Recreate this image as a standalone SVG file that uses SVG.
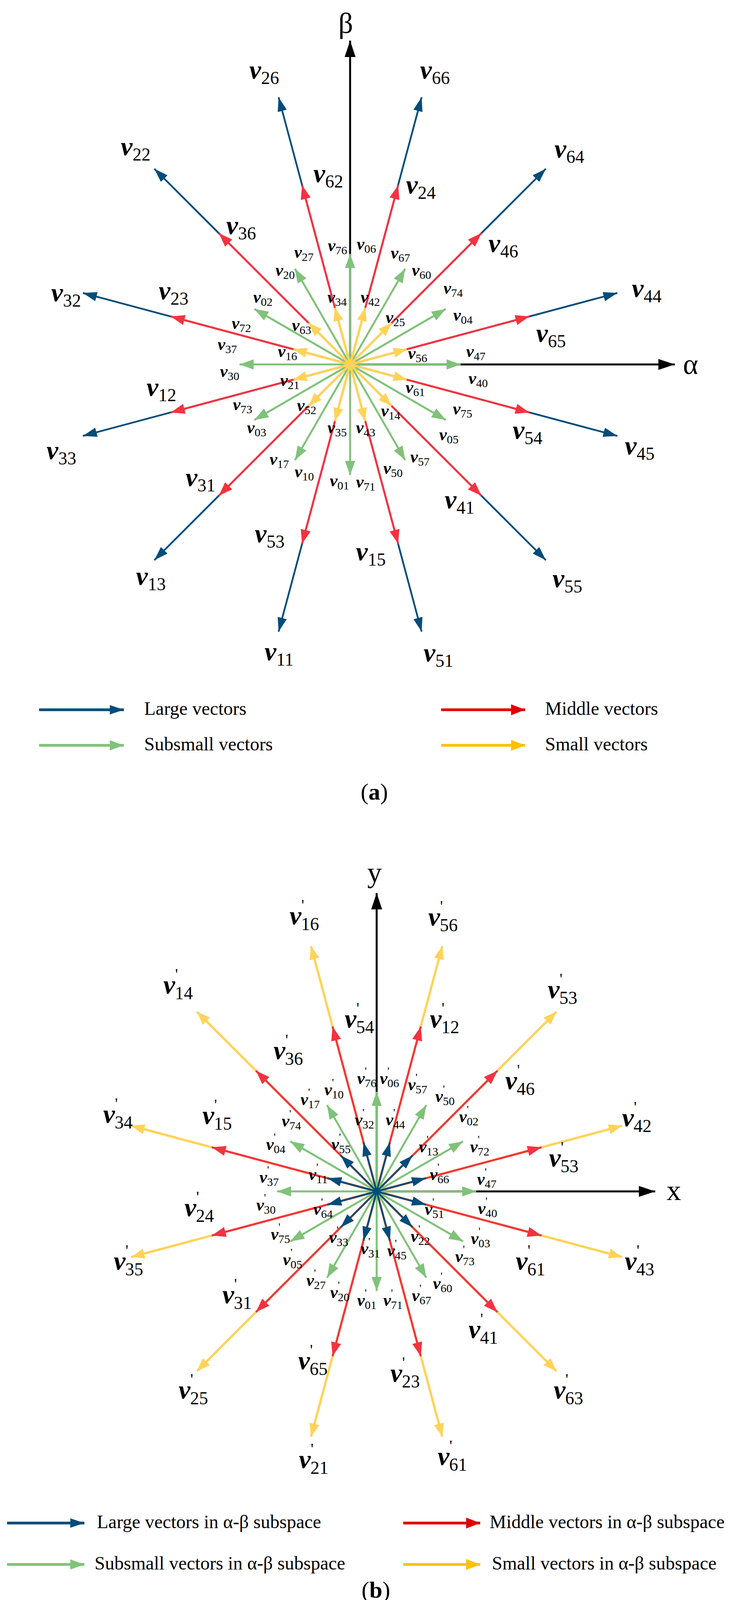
<svg xmlns="http://www.w3.org/2000/svg" width="1899" height="4184" viewBox="0 0 1899 4184">
<style>
text{font-family:"Liberation Serif","Times New Roman",serif;fill:#000}
.vL{font-weight:bold;font-style:italic;font-size:68px}
.vS{font-weight:bold;font-style:italic;font-size:44px}
.sL{font-weight:normal;font-style:normal;font-size:46px}
.sS{font-weight:normal;font-style:normal;font-size:30px}
.pL{font-weight:normal;font-style:normal;font-size:40px}
.pS{font-weight:normal;font-style:normal;font-size:28px}
.ax{font-size:74px}
.lg{font-size:48px}
.cap{font-size:60px}
.b{stroke:#004c7a;stroke-width:4.5;marker-end:url(#mB)}
.r{stroke:#f53240;stroke-width:5;marker-end:url(#mR)}
.g{stroke:#80c27a;stroke-width:5;marker-end:url(#mG)}
.y{stroke:#ffd35a;stroke-width:6;marker-end:url(#mY)}
.k{stroke:#000;stroke-width:5;marker-end:url(#mK)}
</style>
<defs>
<marker id="mB" markerUnits="userSpaceOnUse" markerWidth="36" markerHeight="24" refX="36" refY="12" orient="auto"><path d="M0,0L36,12L0,24z" fill="#004c7a"/></marker>
<marker id="mR" markerUnits="userSpaceOnUse" markerWidth="36" markerHeight="26" refX="36" refY="13" orient="auto"><path d="M0,0L36,13L0,26z" fill="#f53240"/></marker>
<marker id="mG" markerUnits="userSpaceOnUse" markerWidth="36" markerHeight="26" refX="36" refY="13" orient="auto"><path d="M0,0L36,13L0,26z" fill="#80c27a"/></marker>
<marker id="mY" markerUnits="userSpaceOnUse" markerWidth="34" markerHeight="26" refX="34" refY="13" orient="auto"><path d="M0,0L34,13L0,26z" fill="#ffd35a"/></marker>
<marker id="mK" markerUnits="userSpaceOnUse" markerWidth="42" markerHeight="28" refX="42" refY="14" orient="auto"><path d="M0,0L42,14L0,28z" fill="#000"/></marker>
<marker id="mR2" markerUnits="userSpaceOnUse" markerWidth="36" markerHeight="28" refX="36" refY="14" orient="auto"><path d="M0,0L36,14L0,28z" fill="#e00000"/></marker>
<marker id="mY2" markerUnits="userSpaceOnUse" markerWidth="36" markerHeight="28" refX="36" refY="14" orient="auto"><path d="M0,0L36,14L0,28z" fill="#ffc000"/></marker>
</defs>

<g id="connectors-a">
<line class="k" x1="896" y1="933" x2="1727" y2="933"/>
<line class="k" x1="896" y1="933" x2="896" y2="104"/>
<line class="b" x1="896" y1="933" x2="1580" y2="750"/>
<line class="b" x1="896" y1="933" x2="1397" y2="432"/>
<line class="b" x1="896" y1="933" x2="1079" y2="249"/>
<line class="b" x1="896" y1="933" x2="713" y2="249"/>
<line class="b" x1="896" y1="933" x2="395" y2="432"/>
<line class="b" x1="896" y1="933" x2="212" y2="750"/>
<line class="b" x1="896" y1="933" x2="212" y2="1116"/>
<line class="b" x1="896" y1="933" x2="395" y2="1434"/>
<line class="b" x1="896" y1="933" x2="713" y2="1617"/>
<line class="b" x1="896" y1="933" x2="1079" y2="1617"/>
<line class="b" x1="896" y1="933" x2="1397" y2="1434"/>
<line class="b" x1="896" y1="933" x2="1580" y2="1116"/>
<line class="r" x1="896" y1="933" x2="1355" y2="810"/>
<line class="r" x1="896" y1="933" x2="1232" y2="597"/>
<line class="r" x1="896" y1="933" x2="1019" y2="474"/>
<line class="r" x1="896" y1="933" x2="773" y2="474"/>
<line class="r" x1="896" y1="933" x2="560" y2="597"/>
<line class="r" x1="896" y1="933" x2="437" y2="810"/>
<line class="r" x1="896" y1="933" x2="437" y2="1056"/>
<line class="r" x1="896" y1="933" x2="560" y2="1269"/>
<line class="r" x1="896" y1="933" x2="773" y2="1392"/>
<line class="r" x1="896" y1="933" x2="1019" y2="1392"/>
<line class="r" x1="896" y1="933" x2="1232" y2="1269"/>
<line class="r" x1="896" y1="933" x2="1355" y2="1056"/>
<line class="g" x1="896" y1="933" x2="1179" y2="933"/>
<line class="g" x1="896" y1="933" x2="1141" y2="791"/>
<line class="g" x1="896" y1="933" x2="1037" y2="688"/>
<line class="g" x1="896" y1="933" x2="896" y2="650"/>
<line class="g" x1="896" y1="933" x2="755" y2="688"/>
<line class="g" x1="896" y1="933" x2="651" y2="791"/>
<line class="g" x1="896" y1="933" x2="613" y2="933"/>
<line class="g" x1="896" y1="933" x2="651" y2="1075"/>
<line class="g" x1="896" y1="933" x2="755" y2="1178"/>
<line class="g" x1="896" y1="933" x2="896" y2="1216"/>
<line class="g" x1="896" y1="933" x2="1037" y2="1178"/>
<line class="g" x1="896" y1="933" x2="1141" y2="1075"/>
<line class="y" x1="896" y1="933" x2="1041" y2="894"/>
<line class="y" x1="896" y1="933" x2="1002" y2="827"/>
<line class="y" x1="896" y1="933" x2="935" y2="788"/>
<line class="y" x1="896" y1="933" x2="857" y2="788"/>
<line class="y" x1="896" y1="933" x2="790" y2="827"/>
<line class="y" x1="896" y1="933" x2="751" y2="894"/>
<line class="y" x1="896" y1="933" x2="751" y2="972"/>
<line class="y" x1="896" y1="933" x2="790" y2="1039"/>
<line class="y" x1="896" y1="933" x2="857" y2="1078"/>
<line class="y" x1="896" y1="933" x2="935" y2="1078"/>
<line class="y" x1="896" y1="933" x2="1002" y2="1039"/>
<line class="y" x1="896" y1="933" x2="1041" y2="972"/>
</g>

<g id="labels-a">
<text class="ax" x="1748" y="957">α</text>
<text class="ax" x="866" y="84">β</text>
<text class="vL" x="638" y="201">v<tspan class="sL" dy="14">26</tspan></text>
<text class="vL" x="1075" y="201">v<tspan class="sL" dy="14">66</tspan></text>
<text class="vL" x="309" y="397">v<tspan class="sL" dy="14">22</tspan></text>
<text class="vL" x="1419" y="403">v<tspan class="sL" dy="14">64</tspan></text>
<text class="vL" x="802" y="466">v<tspan class="sL" dy="14">62</tspan></text>
<text class="vL" x="1039" y="495">v<tspan class="sL" dy="14">24</tspan></text>
<text class="vL" x="579" y="599">v<tspan class="sL" dy="14">36</tspan></text>
<text class="vL" x="1250" y="645">v<tspan class="sL" dy="14">46</tspan></text>
<text class="vL" x="131" y="771">v<tspan class="sL" dy="14">32</tspan></text>
<text class="vL" x="406" y="766">v<tspan class="sL" dy="14">23</tspan></text>
<text class="vL" x="1617" y="760">v<tspan class="sL" dy="14">44</tspan></text>
<text class="vL" x="1372" y="875">v<tspan class="sL" dy="14">65</tspan></text>
<text class="vL" x="375" y="1013">v<tspan class="sL" dy="14">12</tspan></text>
<text class="vL" x="1312" y="1123">v<tspan class="sL" dy="14">54</tspan></text>
<text class="vL" x="119" y="1175">v<tspan class="sL" dy="14">33</tspan></text>
<text class="vL" x="1599" y="1163">v<tspan class="sL" dy="14">45</tspan></text>
<text class="vL" x="475" y="1244">v<tspan class="sL" dy="14">31</tspan></text>
<text class="vL" x="1138" y="1301">v<tspan class="sL" dy="14">41</tspan></text>
<text class="vL" x="652" y="1388">v<tspan class="sL" dy="14">53</tspan></text>
<text class="vL" x="911" y="1434">v<tspan class="sL" dy="14">15</tspan></text>
<text class="vL" x="348" y="1497">v<tspan class="sL" dy="14">13</tspan></text>
<text class="vL" x="1414" y="1503">v<tspan class="sL" dy="14">55</tspan></text>
<text class="vL" x="677" y="1690">v<tspan class="sL" dy="14">11</tspan></text>
<text class="vL" x="1084" y="1693">v<tspan class="sL" dy="14">51</tspan></text>
<text class="vS" x="839" y="643">v<tspan class="sS" dy="8">76</tspan></text>
<text class="vS" x="913" y="639">v<tspan class="sS" dy="8">06</tspan></text>
<text class="vS" x="753" y="660">v<tspan class="sS" dy="8">27</tspan></text>
<text class="vS" x="1000" y="662">v<tspan class="sS" dy="8">67</tspan></text>
<text class="vS" x="705" y="706">v<tspan class="sS" dy="8">20</tspan></text>
<text class="vS" x="1054" y="706">v<tspan class="sS" dy="8">60</tspan></text>
<text class="vS" x="648" y="775">v<tspan class="sS" dy="8">02</tspan></text>
<text class="vS" x="838" y="775">v<tspan class="sS" dy="8">34</tspan></text>
<text class="vS" x="923" y="775">v<tspan class="sS" dy="8">42</tspan></text>
<text class="vS" x="1135" y="752">v<tspan class="sS" dy="8">74</tspan></text>
<text class="vS" x="1160" y="821">v<tspan class="sS" dy="8">04</tspan></text>
<text class="vS" x="593" y="842">v<tspan class="sS" dy="8">72</tspan></text>
<text class="vS" x="747" y="847">v<tspan class="sS" dy="8">63</tspan></text>
<text class="vS" x="987" y="827">v<tspan class="sS" dy="8">25</tspan></text>
<text class="vS" x="557" y="896">v<tspan class="sS" dy="8">37</tspan></text>
<text class="vS" x="711" y="914">v<tspan class="sS" dy="8">16</tspan></text>
<text class="vS" x="1044" y="919">v<tspan class="sS" dy="8">56</tspan></text>
<text class="vS" x="1193" y="914">v<tspan class="sS" dy="8">47</tspan></text>
<text class="vS" x="563" y="965">v<tspan class="sS" dy="8">30</tspan></text>
<text class="vS" x="717" y="988">v<tspan class="sS" dy="8">21</tspan></text>
<text class="vS" x="1199" y="983">v<tspan class="sS" dy="8">40</tspan></text>
<text class="vS" x="1038" y="1006">v<tspan class="sS" dy="8">61</tspan></text>
<text class="vS" x="596" y="1050">v<tspan class="sS" dy="8">73</tspan></text>
<text class="vS" x="760" y="1052">v<tspan class="sS" dy="8">52</tspan></text>
<text class="vS" x="975" y="1066">v<tspan class="sS" dy="8">14</tspan></text>
<text class="vS" x="1159" y="1061">v<tspan class="sS" dy="8">75</tspan></text>
<text class="vS" x="632" y="1109">v<tspan class="sS" dy="8">03</tspan></text>
<text class="vS" x="838" y="1109">v<tspan class="sS" dy="8">35</tspan></text>
<text class="vS" x="911" y="1109">v<tspan class="sS" dy="8">43</tspan></text>
<text class="vS" x="1124" y="1127">v<tspan class="sS" dy="8">05</tspan></text>
<text class="vS" x="690" y="1190">v<tspan class="sS" dy="8">17</tspan></text>
<text class="vS" x="1050" y="1184">v<tspan class="sS" dy="8">57</tspan></text>
<text class="vS" x="754" y="1222">v<tspan class="sS" dy="8">10</tspan></text>
<text class="vS" x="981" y="1213">v<tspan class="sS" dy="8">50</tspan></text>
<text class="vS" x="844" y="1245">v<tspan class="sS" dy="8">01</tspan></text>
<text class="vS" x="911" y="1248">v<tspan class="sS" dy="8">71</tspan></text>
</g>

<g id="legend-a">
<line x1="100" y1="1817" x2="317" y2="1817" stroke="#004c7a" stroke-width="7" marker-end="url(#mB)"/>
<text class="lg" x="369" y="1830">Large vectors</text>
<line x1="1129" y1="1817" x2="1344" y2="1817" stroke="#e00000" stroke-width="7" marker-end="url(#mR2)"/>
<text class="lg" x="1395" y="1830">Middle vectors</text>
<line x1="100" y1="1908" x2="317" y2="1908" stroke="#80c27a" stroke-width="7" marker-end="url(#mG)"/>
<text class="lg" x="369" y="1921">Subsmall vectors</text>
<line x1="1129" y1="1908" x2="1344" y2="1908" stroke="#ffc000" stroke-width="7" marker-end="url(#mY2)"/>
<text class="lg" x="1395" y="1921">Small vectors</text>
<text class="cap" x="958" y="2047" text-anchor="middle">(<tspan font-weight="bold">a</tspan>)</text>
</g>

<g id="connectors-b">
<line class="k" x1="964" y1="3050" x2="1677" y2="3050"/>
<line class="k" x1="964" y1="3050" x2="964" y2="2286"/>
<line class="y" x1="964" y1="3050" x2="1592" y2="2882"/>
<line class="y" x1="964" y1="3050" x2="1424" y2="2590"/>
<line class="y" x1="964" y1="3050" x2="1132" y2="2422"/>
<line class="y" x1="964" y1="3050" x2="796" y2="2422"/>
<line class="y" x1="964" y1="3050" x2="504" y2="2590"/>
<line class="y" x1="964" y1="3050" x2="336" y2="2882"/>
<line class="y" x1="964" y1="3050" x2="336" y2="3218"/>
<line class="y" x1="964" y1="3050" x2="504" y2="3510"/>
<line class="y" x1="964" y1="3050" x2="796" y2="3678"/>
<line class="y" x1="964" y1="3050" x2="1132" y2="3678"/>
<line class="y" x1="964" y1="3050" x2="1424" y2="3510"/>
<line class="y" x1="964" y1="3050" x2="1592" y2="3218"/>
<line class="r" x1="964" y1="3050" x2="1386" y2="2937"/>
<line class="r" x1="964" y1="3050" x2="1273" y2="2741"/>
<line class="r" x1="964" y1="3050" x2="1077" y2="2628"/>
<line class="r" x1="964" y1="3050" x2="851" y2="2628"/>
<line class="r" x1="964" y1="3050" x2="655" y2="2741"/>
<line class="r" x1="964" y1="3050" x2="542" y2="2937"/>
<line class="r" x1="964" y1="3050" x2="542" y2="3163"/>
<line class="r" x1="964" y1="3050" x2="655" y2="3359"/>
<line class="r" x1="964" y1="3050" x2="851" y2="3472"/>
<line class="r" x1="964" y1="3050" x2="1077" y2="3472"/>
<line class="r" x1="964" y1="3050" x2="1273" y2="3359"/>
<line class="r" x1="964" y1="3050" x2="1386" y2="3163"/>
<line class="g" x1="964" y1="3050" x2="1219" y2="3050"/>
<line class="g" x1="964" y1="3050" x2="1185" y2="2922"/>
<line class="g" x1="964" y1="3050" x2="1091" y2="2829"/>
<line class="g" x1="964" y1="3050" x2="964" y2="2795"/>
<line class="g" x1="964" y1="3050" x2="837" y2="2829"/>
<line class="g" x1="964" y1="3050" x2="743" y2="2922"/>
<line class="g" x1="964" y1="3050" x2="709" y2="3050"/>
<line class="g" x1="964" y1="3050" x2="743" y2="3178"/>
<line class="g" x1="964" y1="3050" x2="837" y2="3271"/>
<line class="g" x1="964" y1="3050" x2="964" y2="3305"/>
<line class="g" x1="964" y1="3050" x2="1091" y2="3271"/>
<line class="g" x1="964" y1="3050" x2="1185" y2="3178"/>
<line class="b" x1="964" y1="3050" x2="1090" y2="3016"/>
<line class="b" x1="964" y1="3050" x2="1056" y2="2958"/>
<line class="b" x1="964" y1="3050" x2="998" y2="2924"/>
<line class="b" x1="964" y1="3050" x2="930" y2="2924"/>
<line class="b" x1="964" y1="3050" x2="872" y2="2958"/>
<line class="b" x1="964" y1="3050" x2="838" y2="3016"/>
<line class="b" x1="964" y1="3050" x2="838" y2="3084"/>
<line class="b" x1="964" y1="3050" x2="872" y2="3142"/>
<line class="b" x1="964" y1="3050" x2="930" y2="3176"/>
<line class="b" x1="964" y1="3050" x2="998" y2="3176"/>
<line class="b" x1="964" y1="3050" x2="1056" y2="3142"/>
<line class="b" x1="964" y1="3050" x2="1090" y2="3084"/>
</g>

<g id="labels-b">
<text class="ax" x="940" y="2258">y</text>
<text class="ax" x="1706" y="3072">x</text>
<text class="vL" x="741" y="2366">v<tspan class="pL" dy="-36">'</tspan><tspan class="sL" dx="-8" dy="51">16</tspan></text>
<text class="vL" x="1096" y="2369">v<tspan class="pL" dy="-36">'</tspan><tspan class="sL" dx="-8" dy="51">56</tspan></text>
<text class="vL" x="418" y="2543">v<tspan class="pL" dy="-36">'</tspan><tspan class="sL" dx="-8" dy="51">14</tspan></text>
<text class="vL" x="1402" y="2555">v<tspan class="pL" dy="-36">'</tspan><tspan class="sL" dx="-8" dy="51">53</tspan></text>
<text class="vL" x="882" y="2630">v<tspan class="pL" dy="-36">'</tspan><tspan class="sL" dx="-8" dy="51">54</tspan></text>
<text class="vL" x="1100" y="2630">v<tspan class="pL" dy="-36">'</tspan><tspan class="sL" dx="-8" dy="51">12</tspan></text>
<text class="vL" x="700" y="2711">v<tspan class="pL" dy="-36">'</tspan><tspan class="sL" dx="-8" dy="51">36</tspan></text>
<text class="vL" x="1293" y="2788">v<tspan class="pL" dy="-36">'</tspan><tspan class="sL" dx="-8" dy="51">46</tspan></text>
<text class="vL" x="264" y="2874">v<tspan class="pL" dy="-36">'</tspan><tspan class="sL" dx="-8" dy="51">34</tspan></text>
<text class="vL" x="518" y="2877">v<tspan class="pL" dy="-36">'</tspan><tspan class="sL" dx="-8" dy="51">15</tspan></text>
<text class="vL" x="1592" y="2883">v<tspan class="pL" dy="-36">'</tspan><tspan class="sL" dx="-8" dy="51">42</tspan></text>
<text class="vL" x="1405" y="2986">v<tspan class="pL" dy="-36">'</tspan><tspan class="sL" dx="-8" dy="51">53</tspan></text>
<text class="vL" x="472" y="3113">v<tspan class="pL" dy="-36">'</tspan><tspan class="sL" dx="-8" dy="51">24</tspan></text>
<text class="vL" x="1320" y="3250">v<tspan class="pL" dy="-36">'</tspan><tspan class="sL" dx="-8" dy="51">61</tspan></text>
<text class="vL" x="291" y="3250">v<tspan class="pL" dy="-36">'</tspan><tspan class="sL" dx="-8" dy="51">35</tspan></text>
<text class="vL" x="1599" y="3250">v<tspan class="pL" dy="-36">'</tspan><tspan class="sL" dx="-8" dy="51">43</tspan></text>
<text class="vL" x="569" y="3336">v<tspan class="pL" dy="-36">'</tspan><tspan class="sL" dx="-8" dy="51">31</tspan></text>
<text class="vL" x="1199" y="3425">v<tspan class="pL" dy="-36">'</tspan><tspan class="sL" dx="-8" dy="51">41</tspan></text>
<text class="vL" x="763" y="3505">v<tspan class="pL" dy="-36">'</tspan><tspan class="sL" dx="-8" dy="51">65</tspan></text>
<text class="vL" x="999" y="3537">v<tspan class="pL" dy="-36">'</tspan><tspan class="sL" dx="-8" dy="51">23</tspan></text>
<text class="vL" x="457" y="3580">v<tspan class="pL" dy="-36">'</tspan><tspan class="sL" dx="-8" dy="51">25</tspan></text>
<text class="vL" x="1417" y="3580">v<tspan class="pL" dy="-36">'</tspan><tspan class="sL" dx="-8" dy="51">63</tspan></text>
<text class="vL" x="765" y="3758">v<tspan class="pL" dy="-36">'</tspan><tspan class="sL" dx="-8" dy="51">21</tspan></text>
<text class="vL" x="1120" y="3750">v<tspan class="pL" dy="-36">'</tspan><tspan class="sL" dx="-8" dy="51">61</tspan></text>
<text class="vS" x="914" y="2775">v<tspan class="pS" dy="-24">'</tspan><tspan class="sS" dx="-5" dy="32">76</tspan></text>
<text class="vS" x="972" y="2775">v<tspan class="pS" dy="-24">'</tspan><tspan class="sS" dx="-5" dy="32">06</tspan></text>
<text class="vS" x="1044" y="2791">v<tspan class="pS" dy="-24">'</tspan><tspan class="sS" dx="-5" dy="32">57</tspan></text>
<text class="vS" x="830" y="2804">v<tspan class="pS" dy="-24">'</tspan><tspan class="sS" dx="-5" dy="32">10</tspan></text>
<text class="vS" x="1114" y="2821">v<tspan class="pS" dy="-24">'</tspan><tspan class="sS" dx="-5" dy="32">50</tspan></text>
<text class="vS" x="769" y="2829">v<tspan class="pS" dy="-24">'</tspan><tspan class="sS" dx="-5" dy="32">17</tspan></text>
<text class="vS" x="721" y="2884">v<tspan class="pS" dy="-24">'</tspan><tspan class="sS" dx="-5" dy="32">74</tspan></text>
<text class="vS" x="908" y="2881">v<tspan class="pS" dy="-24">'</tspan><tspan class="sS" dx="-5" dy="32">32</tspan></text>
<text class="vS" x="987" y="2881">v<tspan class="pS" dy="-24">'</tspan><tspan class="sS" dx="-5" dy="32">44</tspan></text>
<text class="vS" x="1175" y="2873">v<tspan class="pS" dy="-24">'</tspan><tspan class="sS" dx="-5" dy="32">02</tspan></text>
<text class="vS" x="681" y="2944">v<tspan class="pS" dy="-24">'</tspan><tspan class="sS" dx="-5" dy="32">04</tspan></text>
<text class="vS" x="848" y="2944">v<tspan class="pS" dy="-24">'</tspan><tspan class="sS" dx="-5" dy="32">55</tspan></text>
<text class="vS" x="1072" y="2950">v<tspan class="pS" dy="-24">'</tspan><tspan class="sS" dx="-5" dy="32">13</tspan></text>
<text class="vS" x="1203" y="2950">v<tspan class="pS" dy="-24">'</tspan><tspan class="sS" dx="-5" dy="32">72</tspan></text>
<text class="vS" x="790" y="3021">v<tspan class="pS" dy="-24">'</tspan><tspan class="sS" dx="-5" dy="32">11</tspan></text>
<text class="vS" x="1100" y="3021">v<tspan class="pS" dy="-24">'</tspan><tspan class="sS" dx="-5" dy="32">66</tspan></text>
<text class="vS" x="664" y="3028">v<tspan class="pS" dy="-24">'</tspan><tspan class="sS" dx="-5" dy="32">37</tspan></text>
<text class="vS" x="1221" y="3033">v<tspan class="pS" dy="-24">'</tspan><tspan class="sS" dx="-5" dy="32">47</tspan></text>
<text class="vS" x="656" y="3099">v<tspan class="pS" dy="-24">'</tspan><tspan class="sS" dx="-5" dy="32">30</tspan></text>
<text class="vS" x="802" y="3110">v<tspan class="pS" dy="-24">'</tspan><tspan class="sS" dx="-5" dy="32">64</tspan></text>
<text class="vS" x="1087" y="3110">v<tspan class="pS" dy="-24">'</tspan><tspan class="sS" dx="-5" dy="32">51</tspan></text>
<text class="vS" x="1223" y="3108">v<tspan class="pS" dy="-24">'</tspan><tspan class="sS" dx="-5" dy="32">40</tspan></text>
<text class="vS" x="693" y="3174">v<tspan class="pS" dy="-24">'</tspan><tspan class="sS" dx="-5" dy="32">75</tspan></text>
<text class="vS" x="842" y="3182">v<tspan class="pS" dy="-24">'</tspan><tspan class="sS" dx="-5" dy="32">33</tspan></text>
<text class="vS" x="1051" y="3179">v<tspan class="pS" dy="-24">'</tspan><tspan class="sS" dx="-5" dy="32">22</tspan></text>
<text class="vS" x="1205" y="3185">v<tspan class="pS" dy="-24">'</tspan><tspan class="sS" dx="-5" dy="32">03</tspan></text>
<text class="vS" x="923" y="3211">v<tspan class="pS" dy="-24">'</tspan><tspan class="sS" dx="-5" dy="32">31</tspan></text>
<text class="vS" x="991" y="3216">v<tspan class="pS" dy="-24">'</tspan><tspan class="sS" dx="-5" dy="32">45</tspan></text>
<text class="vS" x="724" y="3239">v<tspan class="pS" dy="-24">'</tspan><tspan class="sS" dx="-5" dy="32">05</tspan></text>
<text class="vS" x="1165" y="3231">v<tspan class="pS" dy="-24">'</tspan><tspan class="sS" dx="-5" dy="32">73</tspan></text>
<text class="vS" x="784" y="3292">v<tspan class="pS" dy="-24">'</tspan><tspan class="sS" dx="-5" dy="32">27</tspan></text>
<text class="vS" x="1108" y="3300">v<tspan class="pS" dy="-24">'</tspan><tspan class="sS" dx="-5" dy="32">60</tspan></text>
<text class="vS" x="845" y="3323">v<tspan class="pS" dy="-24">'</tspan><tspan class="sS" dx="-5" dy="32">20</tspan></text>
<text class="vS" x="1054" y="3331">v<tspan class="pS" dy="-24">'</tspan><tspan class="sS" dx="-5" dy="32">67</tspan></text>
<text class="vS" x="914" y="3343">v<tspan class="pS" dy="-24">'</tspan><tspan class="sS" dx="-5" dy="32">01</tspan></text>
<text class="vS" x="981" y="3343">v<tspan class="pS" dy="-24">'</tspan><tspan class="sS" dx="-5" dy="32">71</tspan></text>
</g>

<g id="legend-b">
<line x1="18" y1="3899" x2="216" y2="3899" stroke="#004c7a" stroke-width="7" marker-end="url(#mB)"/>
<text class="lg" x="248" y="3912">Large vectors in α-β subspace</text>
<line x1="1032" y1="3899" x2="1229" y2="3899" stroke="#e00000" stroke-width="7" marker-end="url(#mR2)"/>
<text class="lg" x="1253" y="3912">Middle vectors in α-β subspace</text>
<line x1="18" y1="4005" x2="216" y2="4005" stroke="#80c27a" stroke-width="7" marker-end="url(#mG)"/>
<text class="lg" x="242" y="4018">Subsmall vectors in α-β subspace</text>
<line x1="1032" y1="4005" x2="1229" y2="4005" stroke="#ffc000" stroke-width="7" marker-end="url(#mY2)"/>
<text class="lg" x="1259" y="4018">Small vectors in α-β subspace</text>
<text class="cap" x="962" y="4090" text-anchor="middle">(<tspan font-weight="bold">b</tspan>)</text>
</g>
</svg>
